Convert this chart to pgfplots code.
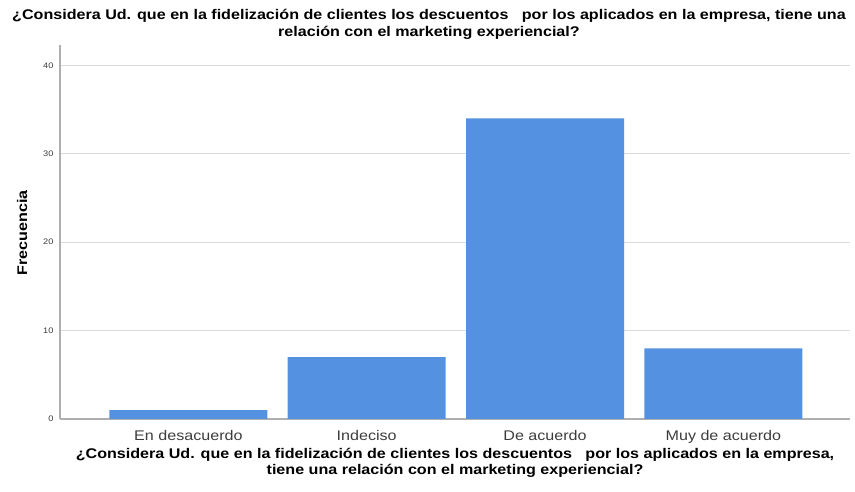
\documentclass[border=0pt]{standalone}
\usepackage{pgfplots}
\pgfplotsset{compat=1.18}
\usepackage{fontspec}
\setmainfont{Liberation Sans}[FakeStretch=1.15]
\definecolor{barblue}{RGB}{84,146,225}
\definecolor{gridgray}{RGB}{218,218,218}
\definecolor{axgray}{RGB}{175,175,175}
\definecolor{txtgray}{RGB}{60,60,60}
\begin{document}
\begin{tikzpicture}[x=1pt,y=1pt]
\path[use as bounding box] (0,0) rectangle (855,492);
\begin{axis}[
  at={(60pt,73pt)}, anchor=south west,
  scale only axis, width=790pt, height=374pt,
  xmin=-0.72, xmax=3.71, ymin=0, ymax=42.3,
  ytick={0,10,20,30,40},
  xtick={0,1,2,3},
  xticklabels={En desacuerdo,Indeciso,De acuerdo,Muy de acuerdo},
  axis x line*=bottom, axis y line*=left,
  axis line style={axgray, line width=1.2pt, -},
  ymajorgrids, grid style={gridgray, line width=0.8pt},
  major tick length=0pt,
  tick style={draw=none},
  yticklabel style={font=\fontsize{8}{9}\selectfont, text=txtgray, xshift=-3pt},
  xticklabel style={font=\fontsize{14}{16}\selectfont, text=txtgray, yshift=-8pt},
  /pgf/number format/assume math mode=true,
  clip=false,
]
\addplot[ybar, bar width=158*4.43/790, fill=barblue, draw=none] coordinates {(0,1) (1,7) (2,34) (3,8)};
\end{axis}
\node[font=\bfseries\fontsize{14}{17}\selectfont, align=center] at (429,468) {¿Considera Ud. que en la fidelización de clientes los descuentos \ \ por los aplicados en la empresa, tiene una\\relación con el marketing experiencial?};
\node[font=\bfseries\fontsize{14}{16}\selectfont, align=center] at (455,29) {¿Considera Ud. que en la fidelización de clientes los descuentos \ \ por los aplicados en la empresa,\\tiene una relación con el marketing experiencial?};
\node[font=\bfseries\fontsize{14}{16}\selectfont, rotate=90] at (22,259) {Frecuencia};
\end{tikzpicture}
\end{document}
